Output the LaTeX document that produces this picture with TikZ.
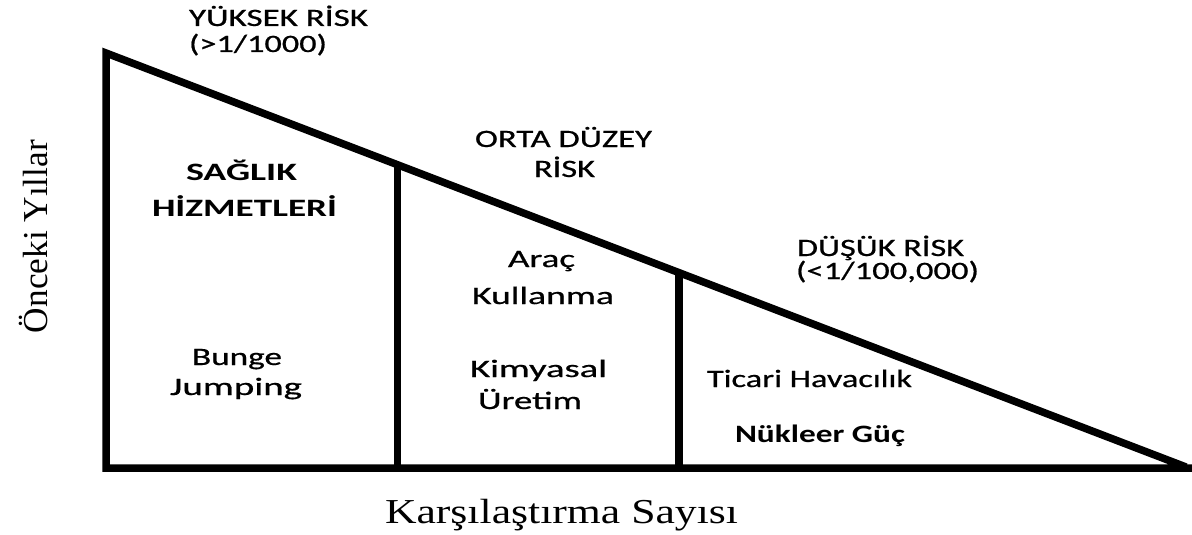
\documentclass[tikz,border=0pt]{standalone}
\usepackage{fontspec}
\usepackage{graphicx}
\newfontfamily\calfont[FakeBold=0.6]{Carlito}
\newfontfamily\calbfont{Carlito Bold}
\newfontfamily\tnrfont{Liberation Serif}
\newcommand\fw[2]{\resizebox{#1pt}{\height}{#2}}
\tikzset{
  frame/.style={line width=7.5pt, draw=black},
  lbl/.style={inner sep=0pt, outer sep=0pt, anchor=base west, font=\calfont\fontsize{25}{29}\selectfont, text=black},
  blbl/.style={lbl, font=\calbfont\fontsize{25}{29}\selectfont},
  axis/.style={inner sep=0pt, outer sep=0pt, font=\tnrfont\fontsize{35}{40}\selectfont, text=black}
}
\begin{document}
\begin{tikzpicture}[x=1pt,y=1pt]
\useasboundingbox (0,0) rectangle (1192,-535);
% frame coordinates
\coordinate (TL) at (106,-53);
\coordinate (BL) at (106,-468);
\coordinate (BR) at (1186,-467);
\coordinate (BE) at (1192,-468);
\coordinate (D1t) at (397.5,-164.7);
\coordinate (D1b) at (397.5,-468);
\coordinate (D2t) at (679,-272.6);
\coordinate (D2b) at (679,-468);
\draw[frame, line join=miter] (BE) -- (BL) -- (TL) -- (BR);
\draw[frame] (D1t) -- (D1b);
\draw[frame] (D2t) -- (D2b);
% labels
\node[lbl] (yk1) at (189,-26) {\fw{179}{YÜKSEK RİSK}};
\node[lbl] (yk2) at (189,-52) {\fw{138}{(>1/1000)}};
\node[blbl] (sg1) at (186,-180) {\fw{111}{SAĞLIK}};
\node[blbl] (sg2) at (152,-216) {\fw{185}{HİZMETLERİ}};
\node[lbl] (bj1) at (192,-365) {\fw{90}{Bunge}};
\node[lbl] (bj2) at (170,-395) {\fw{132}{Jumping}};
\node[lbl] (or1) at (475,-147) {\fw{177}{ORTA DÜZEY}};
\node[lbl] (or2) at (534,-177) {\fw{61}{RİSK}};
\node[lbl] (ar1) at (508,-267) {\fw{67}{Araç}};
\node[lbl] (ar2) at (472,-304) {\fw{142}{Kullanma}};
\node[lbl] (km1) at (470,-377) {\fw{137}{Kimyasal}};
\node[lbl] (km2) at (478,-409) {\fw{104}{Üretim}};
\node[lbl] (dr1) at (797,-256) {\fw{167}{DÜŞÜK RİSK}};
\node[lbl] (dr2) at (796,-279) {\fw{183}{(<1/100,000)}};
\node[lbl] (th) at (707,-387) {\fw{205}{Ticari Havacılık}};
\node[blbl] (ng) at (735,-442) {\fw{170}{Nükleer Güç}};
% axis labels
\node[axis, anchor=base, rotate=90] (yax) at (48,-236.5) {\fw{193}{Önceki Yıllar}};
\node[axis, anchor=base west] (xax) at (385,-523) {\fw{353}{Karşılaştırma Sayısı}};
\end{tikzpicture}
\end{document}
